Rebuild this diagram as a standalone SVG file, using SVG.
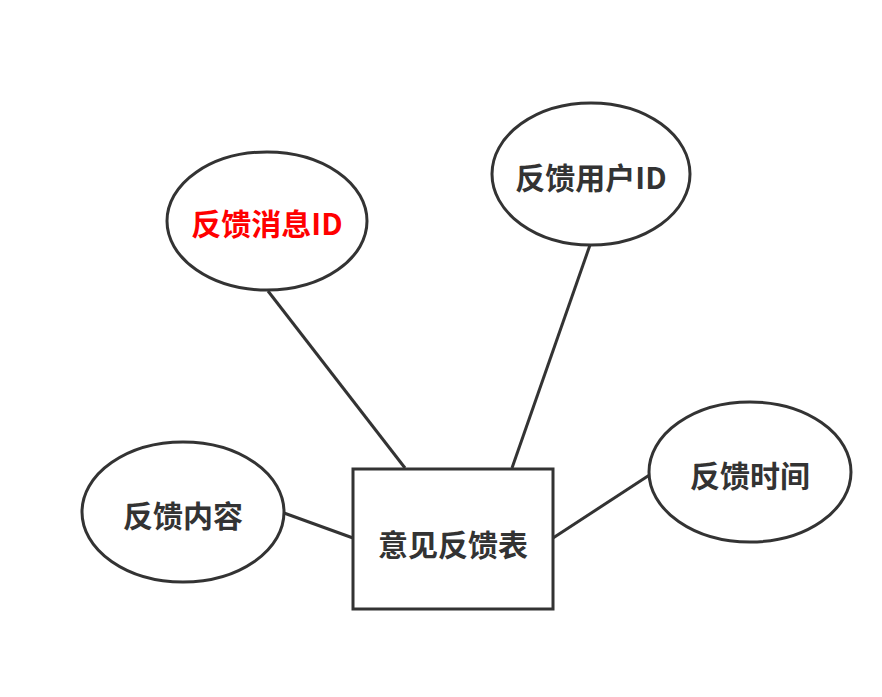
<svg xmlns="http://www.w3.org/2000/svg" width="882" height="697" viewBox="0 0 882 697">
  <style>
    .shape { fill: #ffffff; stroke: #333333; stroke-width: 3; }
    .link { stroke: #333333; stroke-width: 3; fill: none; }
    .label { font-family: "Noto Sans CJK SC", "Liberation Sans", sans-serif; font-size: 30px; font-weight: bold; fill: #333333; text-anchor: middle; dominant-baseline: central; }
    .key { fill: #ff0000; }
  </style>
  <rect width="882" height="697" fill="#ffffff"/>
  <g id="connectors">
    <line class="link" x1="268" y1="291" x2="405" y2="468"/>
    <line class="link" x1="590" y1="245" x2="512" y2="468"/>
    <line class="link" x1="284" y1="513" x2="353" y2="538"/>
    <line class="link" x1="553" y1="538" x2="651" y2="474"/>
  </g>
  <g id="entity-feedback">
    <rect class="shape" x="353" y="469" width="200" height="140"/>
    <text class="label" x="453" y="543">意见反馈表</text>
  </g>
  <g id="attr-message-id">
    <ellipse class="shape" cx="267" cy="221" rx="100" ry="69"/>
    <text class="label key" x="267" y="222">反馈消息ID</text>
  </g>
  <g id="attr-user-id">
    <ellipse class="shape" cx="591" cy="174" rx="99" ry="71"/>
    <text class="label" x="591" y="176">反馈用户ID</text>
  </g>
  <g id="attr-time">
    <ellipse class="shape" cx="750" cy="472" rx="101" ry="70"/>
    <text class="label" x="750" y="474">反馈时间</text>
  </g>
  <g id="attr-content">
    <ellipse class="shape" cx="183" cy="512" rx="101" ry="70"/>
    <text class="label" x="183" y="514">反馈内容</text>
  </g>
</svg>
